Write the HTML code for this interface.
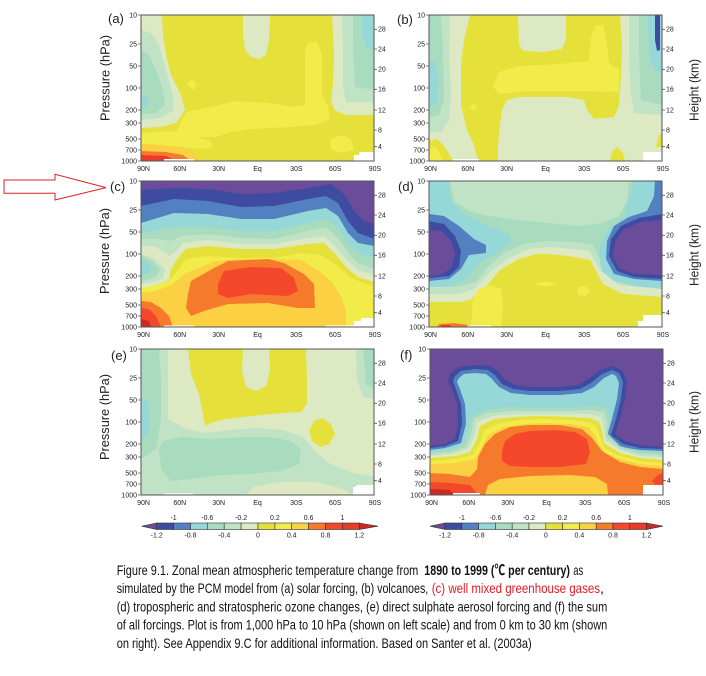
<!DOCTYPE html>
<html><head><meta charset="utf-8">
<style>
html,body{margin:0;padding:0;background:#fff;}
svg{display:block}
.P{fill:#6b4c9a}.DB{fill:#3e4ba1}.B{fill:#5280c0}.C{fill:#95d8d7}.M{fill:#a9dbbf}.LG{fill:#c0e3c5}.PG{fill:#dce9c2}
.Y{fill:#e5e13a}.BY{fill:#f1ec4a}.YO{fill:#fbd143}.O{fill:#f67a2c}.RO{fill:#f4472c}.R{fill:#e93a2a}.DR{fill:#c92a25}.W{fill:#fff}
.t{font-family:"Liberation Sans",Arial,sans-serif;font-size:7px;fill:#222}
.lab{font-family:"Liberation Sans",Arial,sans-serif;font-size:13px;fill:#222}
.cap{font-family:"Liberation Sans","Noto Sans CJK SC",sans-serif;font-size:14px;fill:#111}
</style></head><body>
<svg width="706" height="676" viewBox="0 0 706 676" xmlns="http://www.w3.org/2000/svg">
<defs><clipPath id="cp"><rect x="0" y="0" width="233" height="146"/></clipPath></defs>
<rect width="706" height="676" fill="#fff"/>

<!-- Panel (a) -->
<g transform="translate(141,15)">
<g clip-path="url(#cp)">
<rect class="Y" width="233" height="146"/>
<polygon class="BY" points="35,118 45,97 70,92 95,86 130,88 150,92 164,90 164,35 168,27 176,27 181,40 181,80 187,92 189,104 175,110 150,112 110,114 90,117 75,122 55,122"/>
<polygon class="BY" points="0,118 30,116 55,122 70,126 72,132 60,134 30,131 0,130"/>
<polygon class="BY" points="189,125 200,120 210,124 213,135 200,138 190,134"/>
<polygon class="BY" points="46,70 51,64 56,70 52,75"/>
<polygon class="PG" points="0,0 21,0 22,20 25,40 30,60 40,80 44,95 35,108 20,112 0,113"/>
<polygon class="LG" points="0,15 10,18 18,30 25,55 32,80 33,95 20,103 0,105"/>
<polygon class="M" points="0,35 8,40 15,55 22,75 24,90 15,98 0,99"/>
<polygon class="C" points="0,80 5,82 8,87 5,92 0,93"/>
<polygon class="PG" points="102,0 129,0 128,25 125,40 118,44 110,42 104,35 102,20"/>
<polygon class="PG" points="191,0 233,0 233,100 205,100 193,95 190,85 192,70 193,40"/>
<polygon class="LG" points="201,0 233,0 233,87 205,87 202,70 202,30"/>
<polygon class="M" points="212,0 233,0 233,75 214,72 212,30"/>
<polygon class="C" points="221,0 233,0 233,35 225,33 221,18"/>
<polygon class="YO" points="0,129 20,130 45,133 55,140 58,146 0,146"/>
<polygon class="O" points="0,136 25,137 42,140 50,146 0,146"/>
<polygon class="R" points="0,140 25,141 35,146 0,146"/>
<rect class="W" x="23" y="144" width="30" height="2"/>
<polygon class="W" points="213,146 213,140 218,140 218,137 233,137 233,146"/>
</g>
<rect width="233" height="146" fill="none" stroke="#555" stroke-width="1"/>
<path d="M-3,0H0M-3,29H0M-3,51H0M-3,73H0M-3,95H0M-3,108H0M-3,124H0M-3,135H0M-3,146H0M233,14.3h3M233,34h3M233,54.3h3M233,74.3h3M233,95h3M233,115h3M233,131.7h3" stroke="#555" stroke-width="0.8"/>
<g class="t" text-anchor="end"><text x="-4" y="2.4">10</text><text x="-4" y="31.4">25</text><text x="-4" y="53.4">50</text><text x="-4" y="75.4">100</text><text x="-4" y="97.4">200</text><text x="-4" y="110.4">300</text><text x="-4" y="126.4">500</text><text x="-4" y="137.4">700</text><text x="-4" y="148.4">1000</text></g>
<g class="t"><text x="237" y="16.7">28</text><text x="237" y="36.4">24</text><text x="237" y="56.7">20</text><text x="237" y="76.7">16</text><text x="237" y="97.4">12</text><text x="237" y="117.4">8</text><text x="237" y="134.1">4</text></g>
<g class="t" text-anchor="middle"><text x="2.5" y="156">90N</text><text x="38.8" y="156">60N</text><text x="77.7" y="156">30N</text><text x="116.5" y="156">Eq</text><text x="155.3" y="156">30S</text><text x="194.2" y="156">60S</text><text x="234" y="156">90S</text></g>
</g>

<!-- Panel (b) -->
<g transform="translate(429,15)">
<g clip-path="url(#cp)">
<rect class="PG" width="233" height="146"/>
<polygon class="Y" points="41,0 191,0 193,30 192,60 190,90 185,102 165,104 158,95 155,85 140,82 90,82 78,85 73,95 71,110 69,130 69,146 49,146 45,130 38,115 32,90 32,50 35,25"/>
<polygon class="PG" points="89,0 137,0 137,25 133,34 115,37 95,36 90,30"/>
<polygon class="BY" points="64,72 70,57 90,51 130,49 160,46 162,22 167,10 174,10 178,30 180,48 190,55 190,77 150,76 100,76 70,79"/>
<polygon class="BY" points="40,92 44,89 48,92 45,96"/>
<polygon class="LG" points="0,0 21,0 20,40 22,80 20,105 12,117 0,118"/>
<polygon class="M" points="0,0 12,0 14,40 15,85 10,100 0,102"/>
<polygon class="C" points="0,45 6,47 10,65 8,88 0,92"/>
<polygon class="LG" points="200,0 233,0 233,100 205,98 202,80 200,40"/>
<polygon class="M" points="210,0 233,0 233,90 212,85 210,40"/>
<polygon class="C" points="219,0 233,0 233,57 225,55 220,40 219,15"/>
<polygon class="DB" points="226,0 231,0 231,35 228,36 226,25"/>
<polygon class="Y" points="0,126 8,124 16,132 24,146 0,146"/>
<polygon class="BY" points="0,133 8,132 14,146 0,146"/>
<polygon class="Y" points="181,146 183,136 188,132 194,138 196,146"/>
<polygon class="Y" points="227,132 230,120 233,118 233,132"/>
<rect class="W" x="24" y="144" width="26" height="2"/>
<polygon class="W" points="214,146 214,137 233,137 233,146"/>
</g>
<rect width="233" height="146" fill="none" stroke="#555" stroke-width="1"/>
<path d="M-3,0H0M-3,29H0M-3,51H0M-3,73H0M-3,95H0M-3,108H0M-3,124H0M-3,135H0M-3,146H0M233,14.3h3M233,34h3M233,54.3h3M233,74.3h3M233,95h3M233,115h3M233,131.7h3" stroke="#555" stroke-width="0.8"/>
<g class="t" text-anchor="end"><text x="-4" y="2.4">10</text><text x="-4" y="31.4">25</text><text x="-4" y="53.4">50</text><text x="-4" y="75.4">100</text><text x="-4" y="97.4">200</text><text x="-4" y="110.4">300</text><text x="-4" y="126.4">500</text><text x="-4" y="137.4">700</text><text x="-4" y="148.4">1000</text></g>
<g class="t"><text x="237" y="16.7">28</text><text x="237" y="36.4">24</text><text x="237" y="56.7">20</text><text x="237" y="76.7">16</text><text x="237" y="97.4">12</text><text x="237" y="117.4">8</text><text x="237" y="134.1">4</text></g>
<g class="t" text-anchor="middle"><text x="1.5" y="156">90N</text><text x="38.8" y="156">60N</text><text x="77.7" y="156">30N</text><text x="116.5" y="156">Eq</text><text x="155.3" y="156">30S</text><text x="194.2" y="156">60S</text><text x="234" y="156">90S</text></g>
</g>

<!-- Panel (c) -->
<g transform="translate(141,181)">
<g clip-path="url(#cp)">
<rect class="BY" width="233" height="146"/>
<polygon class="YO" points="0,112 15,110 30,104 45,92 60,86 75,80 100,78 135,78 160,79 178,90 190,100 200,115 205,130 205,146 0,146"/>
<polygon class="O" points="0,120 10,121 20,127 28,135 32,146 0,146"/>
<polygon class="RO" points="0,127 8,128 15,135 20,146 0,146"/>
<polygon class="DR" points="0,138 8,140 10,146 0,146"/>
<polygon class="O" points="47,113 50,100 73,87 87,80 127,78 143,82 163,93 173,103 174,127 157,127 127,122 87,123 63,130 50,135 45,127"/>
<polygon class="RO" points="77,103 83,90 110,86 140,87 153,97 157,110 147,115 110,113 87,117 77,113"/>
<polygon class="Y" points="0,0 233,0 233,106 210,97 195,84 180,74 160,72 133,77 100,77 67,75 45,78 36,90 28,100 15,104 0,106"/>
<polygon class="PG" points="0,0 233,0 233,101 217,96 207,88 195,74 183,62 167,63 133,68 100,68 67,65 45,68 36,78 30,88 15,74 0,70"/>
<polygon class="LG" points="0,0 233,0 233,94 217,89 207,80 195,66 183,55 167,57 133,63 100,63 67,59 42,62 35,70 28,75 15,66 0,64"/>
<polygon class="M" points="0,0 233,0 233,88 217,82 207,72 197,57 185,46 167,50 133,58 100,57 67,53 40,55 30,60 15,58 0,58"/>
<polygon class="C" points="0,0 233,0 233,77 217,72 207,63 197,47 185,38 167,42 133,50 100,50 67,46 33,46 20,48 0,52"/>
<polygon class="B" points="0,0 233,0 233,65 217,62 207,52 197,35 185,27 167,30 133,38 100,38 67,33 33,32 0,42"/>
<polygon class="DB" points="0,0 233,0 233,58 217,52 207,40 197,22 185,15 167,18 133,25 100,26 67,20 33,18 0,25"/>
<polygon class="P" points="0,0 233,0 233,43 223,40 213,30 203,13 190,3 167,7 133,12 100,13 67,8 33,7 0,9"/>
<polygon class="PG" points="0,70 15,74 30,88 28,99 15,104 0,107"/>
<polygon class="LG" points="0,73 12,77 24,88 22,97 12,101 0,103"/>
<polygon class="M" points="0,75 10,79 19,88 16,95 8,98 0,100"/>
<polygon class="C" points="0,78 7,82 11,88 7,93 0,95"/>
<rect class="W" x="23" y="144.5" width="30" height="1.5"/>
<rect class="W" x="185" y="144.5" width="28" height="1.5"/>
<polygon class="W" points="213,146 213,140 220,140 220,137 233,137 233,146"/>
</g>
<rect width="233" height="146" fill="none" stroke="#555" stroke-width="1"/>
<path d="M-3,0H0M-3,29H0M-3,51H0M-3,73H0M-3,95H0M-3,108H0M-3,124H0M-3,135H0M-3,146H0M233,14.3h3M233,34h3M233,54.3h3M233,74.3h3M233,95h3M233,115h3M233,131.7h3" stroke="#555" stroke-width="0.8"/>
<g class="t" text-anchor="end"><text x="-4" y="2.4">10</text><text x="-4" y="31.4">25</text><text x="-4" y="53.4">50</text><text x="-4" y="75.4">100</text><text x="-4" y="97.4">200</text><text x="-4" y="110.4">300</text><text x="-4" y="126.4">500</text><text x="-4" y="137.4">700</text><text x="-4" y="148.4">1000</text></g>
<g class="t"><text x="237" y="16.7">28</text><text x="237" y="36.4">24</text><text x="237" y="56.7">20</text><text x="237" y="76.7">16</text><text x="237" y="97.4">12</text><text x="237" y="117.4">8</text><text x="237" y="134.1">4</text></g>
<g class="t" text-anchor="middle"><text x="2.5" y="156">90N</text><text x="38.8" y="156">60N</text><text x="77.7" y="156">30N</text><text x="116.5" y="156">Eq</text><text x="155.3" y="156">30S</text><text x="194.2" y="156">60S</text><text x="234" y="156">90S</text></g>
</g>

<!-- Panel (d) -->
<g transform="translate(429,181)">
<g clip-path="url(#cp)">
<rect class="Y" width="233" height="146"/>
<polygon class="PG" points="0,0 233,0 233,116 194,113 174,103 161,79 140,75 117,73 107,73 90,78 71,89 55,108 41,119 30,121 0,121"/>
<polygon class="LG" points="0,0 233,0 233,108 190,104 172,90 160,70 145,68 120,66 100,68 80,77 62,90 45,108 30,113 0,113"/>
<polygon class="M" points="0,0 233,0 233,101 188,97 172,80 163,63 145,61 120,60 95,63 75,72 60,85 48,100 30,106 0,106"/>
<polygon class="LG" points="21,0 200,0 198,20 190,35 172,42 150,45 120,42 100,40 80,38 60,35 40,30 25,20"/>
<polygon class="C" points="0,0 20,0 22,20 35,33 60,45 80,53 82,62 72,70 50,82 38,98 20,105 0,106"/>
<polygon class="B" points="0,33 15,35 30,45 45,58 57,64 57,72 40,74 32,88 20,98 0,100"/>
<polygon class="DB" points="0,40 15,43 26,55 32,70 30,86 20,95 0,97"/>
<polygon class="P" points="0,49 12,50 22,60 26,73 22,87 12,94 0,95"/>
<polygon class="C" points="205,0 233,0 233,108 205,105 185,100 173,90 170,75 172,60 180,48 195,35 200,15"/>
<polygon class="B" points="226,0 233,0 233,100 205,98 185,93 177,78 178,60 185,45 200,36 218,30 225,15"/>
<polygon class="DB" points="233,33 233,98 205,96 188,90 180,75 182,58 192,45 210,37"/>
<polygon class="P" points="233,39 233,94 205,93 190,87 184,75 186,60 195,48 212,41"/>
<polygon class="BY" points="42,146 44,118 50,108 62,104 72,108 74,125 72,146"/>
<ellipse class="BY" cx="117" cy="103" rx="10" ry="2"/>
<ellipse class="BY" cx="154" cy="110" rx="6" ry="5"/>
<polygon class="O" points="8,146 10,143 25,142 40,144 42,146"/>
<rect class="R" x="12" y="144" width="10" height="2"/>
<rect class="W" x="38" y="144.5" width="24" height="1.5"/>
<polygon class="W" points="209,146 209,140 214,140 214,134 233,134 233,146"/>
</g>
<rect width="233" height="146" fill="none" stroke="#555" stroke-width="1"/>
<path d="M-3,0H0M-3,29H0M-3,51H0M-3,73H0M-3,95H0M-3,108H0M-3,124H0M-3,135H0M-3,146H0M233,14.3h3M233,34h3M233,54.3h3M233,74.3h3M233,95h3M233,115h3M233,131.7h3" stroke="#555" stroke-width="0.8"/>
<g class="t" text-anchor="end"><text x="-4" y="2.4">10</text><text x="-4" y="31.4">25</text><text x="-4" y="53.4">50</text><text x="-4" y="75.4">100</text><text x="-4" y="97.4">200</text><text x="-4" y="110.4">300</text><text x="-4" y="126.4">500</text><text x="-4" y="137.4">700</text><text x="-4" y="148.4">1000</text></g>
<g class="t"><text x="237" y="16.7">28</text><text x="237" y="36.4">24</text><text x="237" y="56.7">20</text><text x="237" y="76.7">16</text><text x="237" y="97.4">12</text><text x="237" y="117.4">8</text><text x="237" y="134.1">4</text></g>
<g class="t" text-anchor="middle"><text x="1.5" y="156">90N</text><text x="38.8" y="156">60N</text><text x="77.7" y="156">30N</text><text x="116.5" y="156">Eq</text><text x="155.3" y="156">30S</text><text x="194.2" y="156">60S</text><text x="234" y="156">90S</text></g>
</g>

<!-- Panel (e) -->
<g transform="translate(141,349)">
<g clip-path="url(#cp)">
<rect class="PG" width="233" height="146"/>
<polygon class="LG" points="0,0 27,0 27,60 27,70 45,80 65,84 88,81 115,79 142,81 162,88 175,103 188,114 212,124 233,128 233,146 0,146"/>
<polygon class="PG" points="105,146 112,138 140,133 175,133 200,139 212,146"/>
<polygon class="M" points="0,0 18,0 20,30 20,70 15,100 0,110"/>
<polygon class="M" points="22,92 40,88 70,90 100,88 130,88 150,92 160,100 158,115 140,122 110,125 80,126 50,130 30,132 20,120 18,100"/>
<polygon class="C" points="0,49 6,52 9,65 8,82 4,89 0,90"/>
<polygon class="Y" points="47,0 165,0 166,30 166,55 160,63 140,64 110,67 85,70 70,74 64,77 62,65 58,45 50,25"/>
<polygon class="PG" points="102,0 128,0 129,22 125,37 115,42 105,38 101,22"/>
<polygon class="Y" points="181,69 190,75 194,85 188,95 180,98 172,93 168,82 173,72"/>
<polygon class="LG" points="215,0 233,0 233,50 222,48 216,30"/>
<polygon class="M" points="222,0 233,0 233,40 225,35"/>
<rect class="W" x="23" y="144.5" width="29" height="1.5"/>
<polygon class="W" points="212,146 212,138 215,138 215,136 233,136 233,146"/>
</g>
<rect width="233" height="146" fill="none" stroke="#555" stroke-width="1"/>
<path d="M-3,0H0M-3,29H0M-3,51H0M-3,73H0M-3,95H0M-3,108H0M-3,124H0M-3,135H0M-3,146H0M233,14.3h3M233,34h3M233,54.3h3M233,74.3h3M233,95h3M233,115h3M233,131.7h3" stroke="#555" stroke-width="0.8"/>
<g class="t" text-anchor="end"><text x="-4" y="2.4">10</text><text x="-4" y="31.4">25</text><text x="-4" y="53.4">50</text><text x="-4" y="75.4">100</text><text x="-4" y="97.4">200</text><text x="-4" y="110.4">300</text><text x="-4" y="126.4">500</text><text x="-4" y="137.4">700</text><text x="-4" y="148.4">1000</text></g>
<g class="t"><text x="237" y="16.7">28</text><text x="237" y="36.4">24</text><text x="237" y="56.7">20</text><text x="237" y="76.7">16</text><text x="237" y="97.4">12</text><text x="237" y="117.4">8</text><text x="237" y="134.1">4</text></g>
<g class="t" text-anchor="middle"><text x="2.5" y="156">90N</text><text x="38.8" y="156">60N</text><text x="77.7" y="156">30N</text><text x="116.5" y="156">Eq</text><text x="155.3" y="156">30S</text><text x="194.2" y="156">60S</text><text x="234" y="156">90S</text></g>
</g>

<!-- Panel (f) -->
<g transform="translate(430,349)">
<g clip-path="url(#cp)">
<rect class="P" width="233" height="146"/>
<polygon class="DB" points="0,97 15,95 25,90 28,75 27,55 22,40 18,32 20,25 28,18 45,16 60,17 68,22 75,31 85,36 100,38 130,38 148,36 158,30 170,21 182,17 192,21 197,32 195,50 190,70 185,85 195,92 210,96 233,98 233,146 0,146"/>
<polygon class="B" points="0,99 15,97 28,92 32,75 31,55 26,40 23,32 25,27 31,22 45,20 58,21 65,26 72,35 83,40 100,42 130,42 150,40 161,34 172,25 182,21 189,24 193,33 191,50 186,70 181,86 193,95 210,99 233,100 233,146 0,146"/>
<polygon class="C" points="0,101 15,99 31,94 36,75 35,55 30,40 27,33 29,29 34,25 45,24 56,25 62,30 69,38 81,44 100,46 130,46 152,44 164,38 174,29 182,25 186,27 189,34 187,50 182,70 177,87 191,98 210,101 233,102 233,146 0,146"/>
<polygon class="M" points="0,103 20,101 33,96 38,82 41,68 55,61 80,58 110,59 140,59 160,57 176,58 180,68 178,85 190,97 210,103 233,104 233,146 0,146"/>
<polygon class="LG" points="0,105 22,103 36,98 41,85 44,70 58,64 80,62 110,62 140,62 160,61 174,63 177,73 176,88 190,99 210,105 233,106 233,146 0,146"/>
<polygon class="PG" points="0,107 23,105 38,100 44,88 47,73 62,67 85,65 110,65 140,65 160,65 171,68 174,78 175,91 190,101 210,107 233,108 233,146 0,146"/>
<polygon class="Y" points="0,109 25,107 40,103 47,90 50,77 65,70 85,68 110,67 140,68 160,69 169,73 172,82 174,94 190,104 210,109 233,111 233,146 0,146"/>
<polygon class="BY" points="0,112 25,110 43,106 50,94 54,81 70,74 90,71 110,70 140,71 160,73 167,79 171,90 174,99 190,107 210,112 233,114 233,146 0,146"/>
<polygon class="YO" points="0,115 25,114 45,110 52,98 58,86 73,78 95,75 115,74 140,75 158,78 165,86 169,96 175,104 190,110 210,115 233,117 233,146 0,146"/>
<polygon class="O" points="0,124 20,125 40,128 47,120 48,108 55,95 65,85 80,78 100,76 130,76 152,80 162,89 172,102 190,113 210,118 233,120 233,146 0,146"/>
<polygon class="YO" points="55,146 58,136 70,130 100,127 140,126 165,128 177,135 178,146"/>
<polygon class="RO" points="72,102 75,92 85,85 100,82 125,81 145,83 157,90 160,103 156,115 130,118 100,118 80,117 72,112"/>
<polygon class="RO" points="0,133 20,134 40,136 48,146 0,146"/>
<polygon class="DR" points="0,140 20,141 25,146 0,146"/>
<polygon class="RO" points="222,132 228,126 233,124 233,136 225,136"/>
<rect class="W" x="23" y="144" width="27" height="2"/>
<polygon class="W" points="213,146 213,136 233,136 233,146"/>
</g>
<rect width="233" height="146" fill="none" stroke="#555" stroke-width="1"/>
<path d="M-3,0H0M-3,29H0M-3,51H0M-3,73H0M-3,95H0M-3,108H0M-3,124H0M-3,135H0M-3,146H0M233,14.3h3M233,34h3M233,54.3h3M233,74.3h3M233,95h3M233,115h3M233,131.7h3" stroke="#555" stroke-width="0.8"/>
<g class="t" text-anchor="end"><text x="-4" y="2.4">10</text><text x="-4" y="31.4">25</text><text x="-4" y="53.4">50</text><text x="-4" y="75.4">100</text><text x="-4" y="97.4">200</text><text x="-4" y="110.4">300</text><text x="-4" y="126.4">500</text><text x="-4" y="137.4">700</text><text x="-4" y="148.4">1000</text></g>
<g class="t"><text x="237" y="16.7">28</text><text x="237" y="36.4">24</text><text x="237" y="56.7">20</text><text x="237" y="76.7">16</text><text x="237" y="97.4">12</text><text x="237" y="117.4">8</text><text x="237" y="134.1">4</text></g>
<g class="t" text-anchor="middle"><text x="1.5" y="156">90N</text><text x="38.8" y="156">60N</text><text x="77.7" y="156">30N</text><text x="116.5" y="156">Eq</text><text x="155.3" y="156">30S</text><text x="194.2" y="156">60S</text><text x="234" y="156">90S</text></g>
</g>

<!-- Panel letters -->
<g class="lab">
<text x="108" y="23">(a)</text>
<text x="397" y="24">(b)</text>
<text x="110" y="191">(c)</text>
<text x="398" y="191">(d)</text>
<text x="111" y="360">(e)</text>
<text x="400" y="359.5">(f)</text>
</g>

<!-- Axis titles -->
<g class="lab" text-anchor="middle">
<text transform="translate(109.5,78) rotate(-90)" textLength="86" lengthAdjust="spacingAndGlyphs">Pressure (hPa)</text>
<text transform="translate(109,251) rotate(-90)" textLength="86" lengthAdjust="spacingAndGlyphs">Pressure (hPa)</text>
<text transform="translate(109,417) rotate(-90)" textLength="86" lengthAdjust="spacingAndGlyphs">Pressure (hPa)</text>
<text transform="translate(698.5,90) rotate(-90)" textLength="62" lengthAdjust="spacingAndGlyphs">Height (km)</text>
<text transform="translate(698.5,255) rotate(-90)" textLength="62" lengthAdjust="spacingAndGlyphs">Height (km)</text>
<text transform="translate(698.5,422) rotate(-90)" textLength="62" lengthAdjust="spacingAndGlyphs">Height (km)</text>
</g>

<!-- Arrow -->
<polygon points="4,180 55,180 55,174.3 106,187.6 55,200 55,193.3 4,193.3" fill="none" stroke="#e02020" stroke-width="1"/>

<!-- Colorbar (e) -->
<g stroke="#333" stroke-width="0.6">
<polygon class="P" points="141.7,526.2 156.7,523 156.7,529.5"/>
<rect class="DB" x="156.7" y="523" width="16.9" height="6.5"/>
<rect class="B" x="173.6" y="523" width="16.9" height="6.5"/>
<rect class="C" x="190.5" y="523" width="16.8" height="6.5"/>
<rect class="M" x="207.3" y="523" width="16.9" height="6.5"/>
<rect class="LG" x="224.2" y="523" width="16.9" height="6.5"/>
<rect class="PG" x="241.1" y="523" width="16.9" height="6.5"/>
<rect class="Y" x="258" y="523" width="16.9" height="6.5"/>
<rect class="BY" x="274.9" y="523" width="16.8" height="6.5"/>
<rect class="YO" x="291.7" y="523" width="16.9" height="6.5"/>
<rect class="O" x="308.6" y="523" width="16.9" height="6.5"/>
<rect class="RO" x="325.5" y="523" width="16.9" height="6.5"/>
<rect class="R" x="342.4" y="523" width="16.9" height="6.5"/>
<polygon class="DR" points="359.3,523 378,526.2 359.3,529.5"/>
</g>
<g class="t" text-anchor="middle">
<text x="173.6" y="520">-1</text><text x="207.3" y="520">-0.6</text><text x="241.1" y="520">-0.2</text><text x="274.9" y="520">0.2</text><text x="308.6" y="520">0.6</text><text x="342.4" y="520">1</text>
<text x="156.7" y="537.5">-1.2</text><text x="190.5" y="537.5">-0.8</text><text x="224.2" y="537.5">-0.4</text><text x="258" y="537.5">0</text><text x="291.7" y="537.5">0.4</text><text x="325.5" y="537.5">0.8</text><text x="359.3" y="537.5">1.2</text>
</g>

<!-- Colorbar (f) -->
<g stroke="#333" stroke-width="0.6">
<polygon class="P" points="430,526.2 445,523 445,529.5"/>
<rect class="DB" x="445" y="523" width="16.8" height="6.5"/>
<rect class="B" x="461.8" y="523" width="16.8" height="6.5"/>
<rect class="C" x="478.6" y="523" width="16.8" height="6.5"/>
<rect class="M" x="495.4" y="523" width="16.8" height="6.5"/>
<rect class="LG" x="512.2" y="523" width="16.8" height="6.5"/>
<rect class="PG" x="529" y="523" width="16.8" height="6.5"/>
<rect class="Y" x="545.8" y="523" width="16.8" height="6.5"/>
<rect class="BY" x="562.6" y="523" width="16.8" height="6.5"/>
<rect class="YO" x="579.4" y="523" width="16.8" height="6.5"/>
<rect class="O" x="596.2" y="523" width="16.8" height="6.5"/>
<rect class="RO" x="613" y="523" width="16.8" height="6.5"/>
<rect class="R" x="629.8" y="523" width="16.8" height="6.5"/>
<polygon class="DR" points="646.6,523 663,526.2 646.6,529.5"/>
</g>
<g class="t" text-anchor="middle">
<text x="461.8" y="520">-1</text><text x="495.4" y="520">-0.6</text><text x="529" y="520">-0.2</text><text x="562.6" y="520">0.2</text><text x="596.2" y="520">0.6</text><text x="629.8" y="520">1</text>
<text x="445" y="537.5">-1.2</text><text x="478.6" y="537.5">-0.8</text><text x="512.2" y="537.5">-0.4</text><text x="545.8" y="537.5">0</text><text x="579.4" y="537.5">0.4</text><text x="613" y="537.5">0.8</text><text x="646.6" y="537.5">1.2</text>
</g>

<!-- Caption -->
<g class="cap">
<text x="116.7" y="575" textLength="301.6" lengthAdjust="spacingAndGlyphs">Figure 9.1. Zonal mean atmospheric temperature change from</text>
<text x="424.3" y="575" font-weight="bold" textLength="145.7" lengthAdjust="spacingAndGlyphs">1890 to 1999 (℃ per century)</text>
<text x="573.3" y="575" textLength="10" lengthAdjust="spacingAndGlyphs">as</text>
<text x="116.7" y="593.2" textLength="311.6" lengthAdjust="spacingAndGlyphs">simulated by the PCM model from (a) solar forcing, (b) volcanoes,</text>
<text x="431.7" y="593.2" style="fill:#e31b23" textLength="168.3" lengthAdjust="spacingAndGlyphs">(c) well mixed greenhouse gases</text>
<text x="600" y="593.2">,</text>
<text x="116.7" y="611.4" textLength="490.6" lengthAdjust="spacingAndGlyphs">(d) tropospheric and stratospheric ozone changes, (e) direct sulphate aerosol forcing and (f) the sum</text>
<text x="116.7" y="629.6" textLength="490.6" lengthAdjust="spacingAndGlyphs">of all forcings. Plot is from 1,000 hPa to 10 hPa (shown on left scale) and from 0 km to 30 km (shown</text>
<text x="116.7" y="647.8" textLength="415" lengthAdjust="spacingAndGlyphs">on right). See Appendix 9.C for additional information. Based on Santer et al. (2003a)</text>
</g>
</svg>
</body></html>
